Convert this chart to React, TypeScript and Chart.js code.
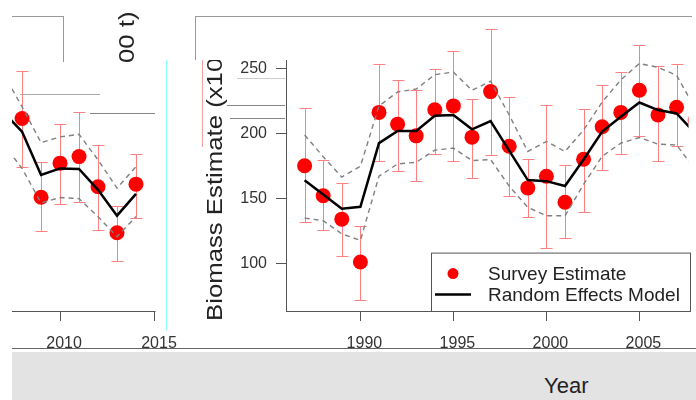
import React, { useEffect, useRef } from "react";
import { Chart, registerables } from "chart.js";

Chart.register(...registerables);

// ---------------- data ----------------
const years = [
  1987, 1988, 1989, 1990, 1991, 1992, 1993, 1994, 1995, 1996, 1997, 1998, 1999, 2000,
  2001, 2002, 2003, 2004, 2005, 2006, 2007, 2008, 2009, 2010, 2011, 2012, 2013, 2014,
];
const survey = [
  175, 152, 134, 101, 216, 207, 198, 218, 221, 197, 232, 190, 158, 167,
  147, 180, 205, 216, 233, 214, 220, 210, 150, 176, 181, 158, 123, 160,
];
const surveyUpper = [
  219.5, 179.7, 162, 129, 253, 241, 233, 249, 263, 226, 280, 227.5, 180, 222,
  175.4, 219, 237, 247, 268, 252, 253, 246.4, 177, 205.6, 215.2, 189.9, 143, 183,
];
const surveyLower = [
  131.5, 126, 106, 72, 178.5, 171.3, 163, 184.3, 178.5, 165.8, 183, 152, 135.3, 111.5,
  119.3, 139.7, 172, 184, 197.5, 178.5, 190, 173.4, 124.4, 144.8, 146.7, 125.2, 101.6, 134.6,
];
const model = [
  163.8, 153, 142, 143.5, 192.4, 201.8, 201.8, 213.5, 214, 203, 209.4, 186.6, 164, 163.2,
  159.4, 179.8, 201.3, 212.7, 223.6, 217.8, 215.2, 200, 167, 172, 171.6, 155.7, 136, 152.6,
];
const modelUpper = [
  198.7, 182, 166.3, 174.6, 221, 231.7, 234, 245, 247, 233, 240, 214, 186, 193.7,
  186, 202.5, 224, 241, 253.6, 250.7, 244.5, 219, 191.6, 196, 198, 178.5, 157, 173.4,
];
const modelLower = [
  134.8, 132.8, 122.7, 117.6, 167, 176.4, 177.7, 187, 188.6, 179, 179.8, 159.4, 143, 136.6,
  136.6, 160.7, 182.3, 192.4, 196.7, 191.6, 191, 172, 145.7, 149.8, 149, 135.3, 120, 135.3,
];
const mainXTicks = [1990, 1995, 2000, 2005];
const insetXTicks = [2010, 2015];
const yTicks = [100, 150, 200, 250];
const legendLabels = ["Survey Estimate", "Random Effects Model"];
const yTitle = "Biomass Estimate (x1000 t)";
const xTitle = "Year";

const FONT = "'Liberation Sans', Arial, Helvetica, sans-serif";
const Y_MIN = 63.4;
const Y_MAX = 288.1;

const pts = (vals: number[]) => years.map((yr, i) => ({ x: yr, y: vals[i] }));

const errorBarPlugin = {
  id: "errorBars",
  beforeDatasetsDraw(chart: any) {
    const { ctx, chartArea, scales } = chart;
    const xs = scales.x;
    const ys = scales.y;
    ctx.save();
    ctx.beginPath();
    ctx.rect(chartArea.left, chartArea.top, chartArea.right - chartArea.left, chartArea.bottom - chartArea.top);
    ctx.clip();
    ctx.strokeStyle = "#ff8080";
    ctx.lineWidth = 1;
    years.forEach((yr, i) => {
      const x = Math.round(xs.getPixelForValue(yr)) + 0.5;
      const y1 = Math.round(ys.getPixelForValue(surveyUpper[i])) + 0.5;
      const y2 = Math.round(ys.getPixelForValue(surveyLower[i])) + 0.5;
      ctx.beginPath();
      ctx.moveTo(x, y1);
      ctx.lineTo(x, y2);
      ctx.moveTo(x - 6, y1);
      ctx.lineTo(x + 6, y1);
      ctx.moveTo(x - 6, y2);
      ctx.lineTo(x + 6, y2);
      ctx.stroke();
    });
    ctx.restore();
  },
};

const legendPlugin = {
  id: "boxLegend",
  afterDraw(chart: any) {
    if (!chart.options.plugins.boxLegend || !chart.options.plugins.boxLegend.show) return;
    const { ctx, chartArea } = chart;
    const left = chartArea.left + 145;
    const top = chartArea.top + 234;
    const right = chartArea.left + 404;
    const bottom = chartArea.bottom;
    ctx.save();
    ctx.fillStyle = "#fff";
    ctx.fillRect(left, top, right - left, bottom - top);
    ctx.strokeStyle = "#555";
    ctx.lineWidth = 1;
    ctx.strokeRect(left + 0.5, top + 0.5, right - left, bottom - top);
    ctx.fillStyle = "red";
    ctx.beginPath();
    ctx.arc(left + 22, top + 21, 5.5, 0, Math.PI * 2);
    ctx.fill();
    ctx.strokeStyle = "#000";
    ctx.lineWidth = 2.5;
    ctx.beginPath();
    ctx.moveTo(left + 4, top + 42);
    ctx.lineTo(left + 40, top + 42);
    ctx.stroke();
    ctx.fillStyle = "#222";
    ctx.font = `19px ${FONT}`;
    ctx.textBaseline = "middle";
    ctx.textAlign = "left";
    ctx.fillText(legendLabels[0], left + 57, top + 22);
    ctx.fillText(legendLabels[1], left + 57, top + 43);
    ctx.restore();
  },
};

const insetAxisPlugin = {
  id: "insetAxis",
  afterDraw(chart: any) {
    if (!chart.options.plugins.insetAxis || !chart.options.plugins.insetAxis.show) return;
    const { ctx, chartArea, scales } = chart;
    const xEnd = scales.x.getPixelForValue(insetXTicks[insetXTicks.length - 1]);
    ctx.save();
    ctx.strokeStyle = "#555";
    ctx.lineWidth = 1;
    ctx.beginPath();
    ctx.moveTo(chartArea.left, Math.round(chartArea.bottom) + 0.5);
    ctx.lineTo(xEnd + 0.5, Math.round(chartArea.bottom) + 0.5);
    ctx.stroke();
    ctx.restore();
  },
};

function buildConfig(kind: "main" | "inset"): any {
  const isMain = kind === "main";
  const xTicks = isMain ? mainXTicks : insetXTicks;
  return {
    type: "line",
    data: {
      datasets: [
        { label: "model", data: pts(model), borderColor: "#000", borderWidth: 2.5, pointRadius: 0, clip: 0 },
        {
          label: "upper",
          data: pts(modelUpper),
          borderColor: "#808080",
          borderWidth: 1.4,
          borderDash: [5, 4],
          pointRadius: 0,
          clip: 0,
        },
        {
          label: "lower",
          data: pts(modelLower),
          borderColor: "#808080",
          borderWidth: 1.4,
          borderDash: [5, 4],
          pointRadius: 0,
          clip: 0,
        },
        {
          label: legendLabels[0],
          data: pts(survey),
          showLine: false,
          pointRadius: 7.5,
          pointBackgroundColor: "#ff0000",
          pointBorderWidth: 0,
          clip: 0,
        },
      ],
    },
    options: {
      animation: false,
      responsive: false,
      devicePixelRatio: 1,
      events: [],
      layout: {
        padding: isMain ? { top: 16, left: 0, right: 0, bottom: 0 } : { top: 16, left: 12, right: 30, bottom: 0 },
      },
      plugins: {
        legend: { display: false },
        tooltip: { enabled: false },
        boxLegend: { show: isMain },
        insetAxis: { show: !isMain },
      },
      scales: {
        x: {
          type: "linear",
          min: isMain ? 1986.0 : 2007.47,
          max: isMain ? 2007.64 : 2015.58,
          afterBuildTicks: (s: any) => {
            s.ticks = xTicks.map((v) => ({ value: v }));
          },
          afterFit: (s: any) => {
            s.height = 49;
          },
          grid: { drawOnChartArea: false, drawTicks: true, tickLength: 10, color: "#555", lineWidth: 1 },
          border: { display: isMain, color: "#555", width: 1 },
          ticks: {
            autoSkip: false,
            maxRotation: 0,
            padding: 13,
            labelOffset: 4,
            color: "#333",
            font: { size: 16, family: FONT },
            callback: (v: any) => String(v),
          },
        },
        y: {
          type: "linear",
          display: isMain,
          min: Y_MIN,
          max: Y_MAX,
          afterBuildTicks: (s: any) => {
            s.ticks = yTicks.map((v) => ({ value: v }));
          },
          afterFit: (s: any) => {
            s.width = isMain ? 96 : 0;
          },
          grid: { drawOnChartArea: false, drawTicks: true, tickLength: 10, color: "#555", lineWidth: 1 },
          border: { display: true, color: "#555", width: 1 },
          ticks: {
            padding: 9,
            color: "#333",
            font: { size: 16, family: FONT },
            callback: (v: any) => String(v),
          },
        },
      },
    },
    plugins: [errorBarPlugin, legendPlugin, insetAxisPlugin],
  };
}

function ChartCanvas({ kind, width, height }: { kind: "main" | "inset"; width: number; height: number }) {
  const ref = useRef<HTMLCanvasElement | null>(null);
  useEffect(() => {
    if (!ref.current) return;
    Chart.defaults.font.family = FONT;
    const chart = new Chart(ref.current, buildConfig(kind));
    return () => chart.destroy();
  }, [kind]);
  return <canvas ref={ref} width={width} height={height} style={{ display: "block", width, height }} />;
}

const abs = (left: number, top: number, width: number, height: number, bg: string): React.CSSProperties => ({
  position: "absolute",
  left,
  top,
  width,
  height,
  background: bg,
});

const rotText = (left: number, top: number): React.CSSProperties => ({
  position: "absolute",
  left,
  top,
  whiteSpace: "nowrap",
  fontSize: 22,
  lineHeight: "26px",
  color: "#222",
  transformOrigin: "left top",
  transform: "rotate(-90deg) scaleX(1.17)",
});

export default function App() {
  return (
    <div
      style={{
        position: "fixed",
        left: 0,
        top: 0,
        width: 696,
        height: 400,
        background: "#fff",
        overflow: "hidden",
        fontFamily: FONT,
      }}
    >
      {/* inset (continuation 2008-2014) */}
      <div style={{ position: "absolute", left: 0, top: 0 }}>
        <ChartCanvas kind="inset" width={196} height={360} />
      </div>
      {/* main chart */}
      <div style={{ position: "absolute", left: 190, top: 0 }}>
        <ChartCanvas kind="main" width={506} height={360} />
      </div>

      {/* y axis title */}
      <div style={rotText(202, 321)}>{yTitle}</div>
      {/* fragment of title at top-left */}
      <div style={rotText(114, 63)}>00 t)</div>

      {/* cover & frame fragments */}
      <div style={abs(196, 0, 92, 60, "#fff")} />
      <div style={abs(12, 16, 51, 1, "#999")} />
      <div style={abs(63, 16, 1, 46, "#999")} />
      <div style={abs(195, 16, 497, 1, "#999")} />
      <div style={abs(195, 16, 1, 44, "#999")} />
      <div style={abs(166, 60, 1, 270, "#8ff")} />
      <div style={abs(202, 60, 1, 87, "#f4a0a0")} />
      <div style={abs(20, 94, 80, 1, "#aaa")} />
      <div style={abs(90, 113, 65, 1, "#888")} />
      <div style={abs(237, 78, 48, 1, "#ccc")} />
      <div style={abs(227, 105, 58, 1, "#888")} />
      <div style={abs(230, 118, 55, 1, "#888")} />

      {/* bottom strip */}
      <div style={abs(12, 348, 684, 1, "#666")} />
      <div style={abs(12, 352, 684, 48, "#e3e3e3")} />
      <div
        style={{
          position: "absolute",
          left: 544,
          top: 373,
          fontSize: 22,
          lineHeight: "26px",
          color: "#222",
          whiteSpace: "nowrap",
        }}
      >
        {xTitle}
      </div>
    </div>
  );
}
